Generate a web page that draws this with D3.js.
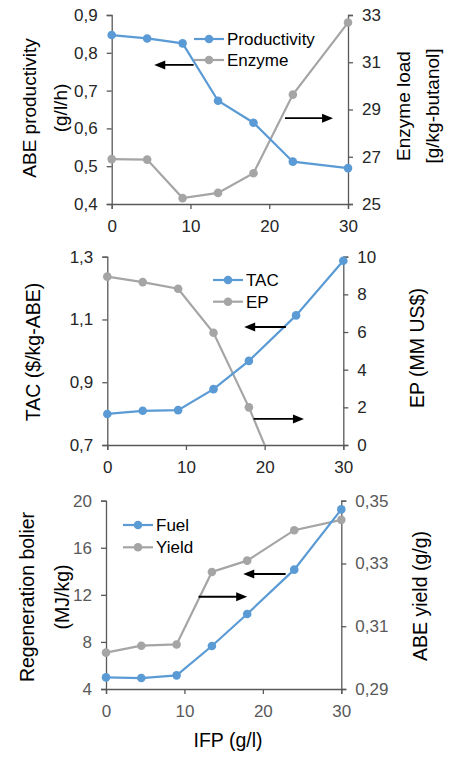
<!DOCTYPE html>
<html>
<head>
<meta charset="utf-8">
<script src="https://cdn.jsdelivr.net/npm/d3@7"></script>
<style>
  html, body { margin: 0; padding: 0; background: #fff; }
  svg { display: block; font-family: "Liberation Sans", Arial, sans-serif; }
</style>
</head>
<body>
<svg id="chart" width="449" height="763"></svg>
<script>
// ---------- DATA ----------
const ifpP1 = [0, 4.5, 9, 13.5, 18, 23, 30];
const productivity = [0.847, 0.838, 0.825, 0.673, 0.615, 0.512, 0.495];
const enzyme = [26.9, 26.88, 25.25, 25.47, 26.3, 29.63, 32.68];

const ifp = [0, 4.5, 9, 13.5, 18, 24, 30];
const tac = [0.799, 0.809, 0.811, 0.878, 0.968, 1.113, 1.287];
const ep = [8.94, 8.65, 8.30, 5.96, 2.0, -4.0, null];

const fuel = [4.99, 4.93, 5.16, 7.65, 10.37, 14.14, 19.26];
const yieldV = [0.3016, 0.3038, 0.3042, 0.3273, 0.3309, 0.3406, 0.3439];

const xTicks = [0, 10, 20, 30];
const p1LeftTicks = [0.4, 0.5, 0.6, 0.7, 0.8, 0.9];
const p1RightTicks = [25, 27, 29, 31, 33];
const p2LeftTicks = [0.7, 0.9, 1.1, 1.3];
const p2RightTicks = [0, 2, 4, 6, 8, 10];
const p3LeftTicks = [4, 8, 12, 16, 20];
const p3RightTicks = [0.29, 0.31, 0.33, 0.35];

const BLUE = "#5B9BD5", GRAY = "#A5A5A5", AXIS = "#595959";

const svg = d3.select("#chart");
const comma = (d, n) => d.toFixed(n).replace(".", ",");

function panel(cfg, idx) {
  const x = d3.scaleLinear().domain([0, 30]).range([cfg.left, cfg.right]);
  const yL = d3.scaleLinear().domain(cfg.leftDomain).range([cfg.bottom, cfg.top]);
  const yR = d3.scaleLinear().domain(cfg.rightDomain).range([cfg.bottom, cfg.top]);
  const g = svg.append("g");

  const clipId = "clip" + idx;
  svg.append("clipPath").attr("id", clipId).append("rect")
    .attr("x", cfg.left - 10).attr("y", cfg.top - 10)
    .attr("width", cfg.right - cfg.left + 20).attr("height", cfg.bottom - cfg.top + 10);

  // axes
  const xa = g.append("g").attr("transform", `translate(0,${cfg.bottom})`)
    .call(d3.axisBottom(x).tickValues(xTicks).tickSize(5).tickPadding(11).tickFormat(d3.format("d")));
  const la = g.append("g").attr("transform", `translate(${cfg.left},0)`)
    .call(d3.axisLeft(yL).tickValues(cfg.leftTicks).tickSize(5).tickPadding(9).tickFormat(cfg.leftFmt));
  const ra = g.append("g").attr("transform", `translate(${cfg.right},0)`)
    .call(d3.axisRight(yR).tickValues(cfg.rightTicks).tickSize(5).tickPadding(9).tickFormat(cfg.rightFmt));
  [xa, la, ra].forEach(a => {
    a.select(".domain").attr("stroke", AXIS).attr("stroke-width", 1.3);
    a.selectAll(".tick line").attr("stroke", AXIS).attr("stroke-width", 1.3);
    a.selectAll("text").attr("fill", cfg.tickColor).style("font-size", "17px")
      .style("font-family", '"Liberation Sans", Arial, sans-serif');
  });

  // series
  const plot = g.append("g").attr("clip-path", `url(#${clipId})`);
  function series(xs, ys, scale, color) {
    const pts = xs.map((v, i) => [v, ys[i]]).filter(p => p[1] !== null);
    plot.append("path").datum(pts)
      .attr("fill", "none").attr("stroke", color).attr("stroke-width", 2.2)
      .attr("d", d3.line().x(p => x(p[0])).y(p => scale(p[1])));
    plot.selectAll(null).data(pts).enter().append("circle")
      .attr("cx", p => x(p[0])).attr("cy", p => scale(p[1])).attr("r", 4.3)
      .attr("fill", color);
  }
  // gray (right) drawn first, blue on top
  series(cfg.xs2, cfg.s2, yR, GRAY);
  series(cfg.xs1, cfg.s1, yL, BLUE);

  // legend
  cfg.legend.forEach((name, i) => {
    const lx = cfg.left + cfg.legX, ly = cfg.top + cfg.legY + i * cfg.legDy;
    const col = i === 0 ? BLUE : GRAY;
    g.append("line").attr("x1", lx).attr("x2", lx + 30).attr("y1", ly).attr("y2", ly)
      .attr("stroke", col).attr("stroke-width", 2.2);
    g.append("circle").attr("cx", lx + 15).attr("cy", ly).attr("r", 4.3).attr("fill", col);
    g.append("text").attr("x", lx + 33).attr("y", ly).attr("dy", "0.36em")
      .attr("fill", "#000").style("font-size", "17px").text(name);
  });

  // arrows (in left-axis data coordinates)
  cfg.arrows.forEach(a => {
    const x1 = x(a.from), x2 = x(a.to), yy = yL(a.y);
    const dir = Math.sign(x2 - x1);
    g.append("line").attr("x1", x1).attr("x2", x2 - dir * 9).attr("y1", yy).attr("y2", yy)
      .attr("stroke", "#000").attr("stroke-width", 1.8);
    g.append("path")
      .attr("d", `M${x2},${yy} L${x2 - dir * 11},${yy - 4.5} L${x2 - dir * 11},${yy + 4.5} Z`)
      .attr("fill", "#000");
  });

  // axis titles
  function vtext(lines, cx, cy, size) {
    lines.forEach((t, i) => {
      svg.append("text")
        .attr("transform", `translate(${cx[i]},${cy}) rotate(-90)`)
        .attr("text-anchor", "middle").attr("dy", "0.36em")
        .attr("fill", "#000").style("font-size", size + "px").text(t);
    });
  }
  vtext(cfg.leftTitle, cfg.leftTitleX, cfg.leftTitleY, cfg.titleSize);
  vtext(cfg.rightTitle, cfg.rightTitleX, cfg.rightTitleY, cfg.titleSize);
}

const panels = [
  {
    left: 111.7, right: 348, top: 15, bottom: 204,
    leftDomain: [0.4, 0.9], rightDomain: [25, 33],
    leftTicks: p1LeftTicks, rightTicks: p1RightTicks,
    leftFmt: d => comma(d, 1), rightFmt: d3.format("d"),
    xs1: ifpP1, s1: productivity, xs2: ifpP1, s2: enzyme,
    legend: ["Productivity", "Enzyme"], legX: 82.3, legY: 24, legDy: 21,
    arrows: [{ from: 10.4, to: 5.4, y: 0.768 }, { from: 22.0, to: 28.1, y: 0.627 }],
    leftTitle: ["ABE productivity", "(g/l/h)"], leftTitleX: [29, 60], leftTitleY: 108,
    rightTitle: ["Enzyme load", "[g/kg-butanol]"], rightTitleX: [403, 432], rightTitleY: 106,
    titleSize: 19, tickColor: "#262626"
  },
  {
    left: 107.3, right: 343.3, top: 256.7, bottom: 445,
    leftDomain: [0.7, 1.3], rightDomain: [0, 10],
    leftTicks: p2LeftTicks, rightTicks: p2RightTicks,
    leftFmt: d => comma(d, 1), rightFmt: d3.format("d"),
    xs1: ifp, s1: tac, xs2: ifp, s2: ep,
    legend: ["TAC", "EP"], legX: 105.7, legY: 23.3, legDy: 21.7,
    arrows: [{ from: 22.7, to: 17.4, y: 1.076 }, { from: 18.6, to: 25.0, y: 0.783 }],
    leftTitle: ["TAC ($/kg-ABE)"], leftTitleX: [33], leftTitleY: 352,
    rightTitle: ["EP (MM US$)"], rightTitleX: [417], rightTitleY: 348,
    titleSize: 19.5, tickColor: "#262626"
  },
  {
    left: 106, right: 341.3, top: 500.7, bottom: 689,
    leftDomain: [4, 20], rightDomain: [0.29, 0.35],
    leftTicks: p3LeftTicks, rightTicks: p3RightTicks,
    leftFmt: d3.format("d"), rightFmt: d => comma(d, 2),
    xs1: ifp, s1: fuel, xs2: ifp, s2: yieldV,
    legend: ["Fuel", "Yield"], legX: 17, legY: 24.3, legDy: 22.3,
    arrows: [{ from: 22.9, to: 17.5, y: 13.77 }, { from: 11.8, to: 18.0, y: 11.84 }],
    leftTitle: ["Regeneration bolier", "(MJ/kg)"], leftTitleX: [27, 62], leftTitleY: 597,
    rightTitle: ["ABE yield (g/g)"], rightTitleX: [420], rightTitleY: 596,
    titleSize: 19.5, tickColor: "#595959"
  }
];
panels.forEach((p, i) => panel(p, i));

svg.append("text").attr("x", 228).attr("y", 747).attr("text-anchor", "middle")
  .attr("fill", "#000").style("font-size", "19.5px").text("IFP (g/l)");
</script>
</body>
</html>
